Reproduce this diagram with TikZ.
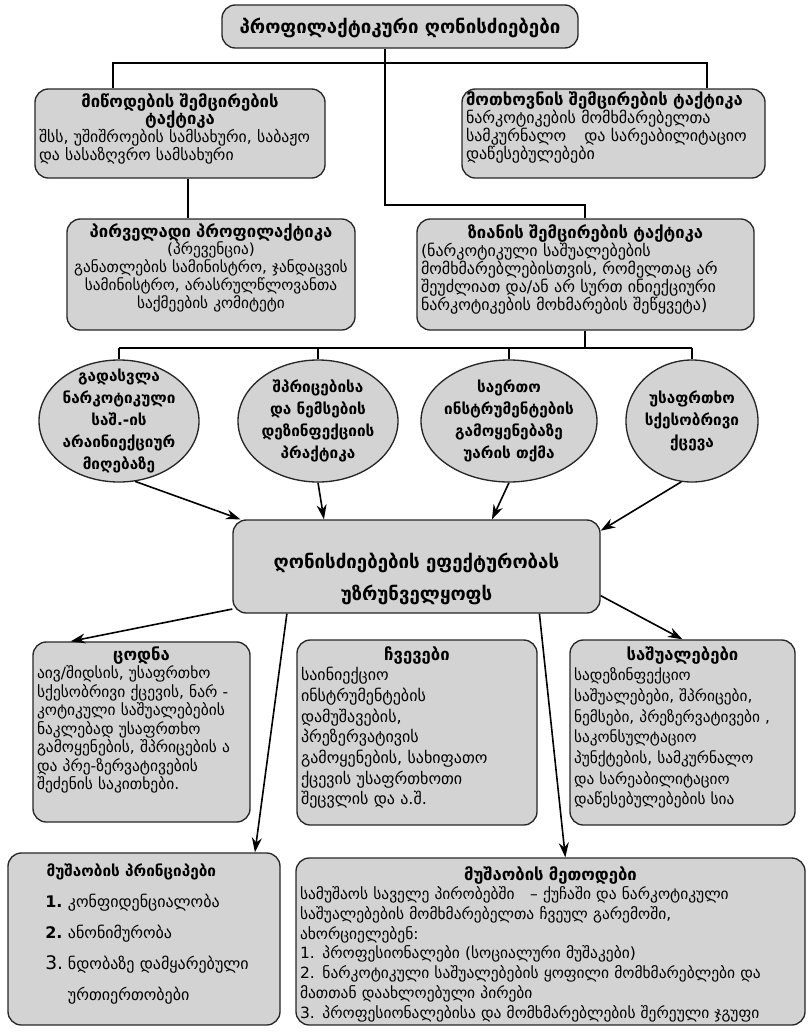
\documentclass[tikz,border=0pt]{standalone}
\usepackage{fontspec}
\setmainfont{DejaVu Sans}
\usetikzlibrary{shapes.geometric,arrows.meta,positioning}
\definecolor{boxgray}{RGB}{211,211,211}
\tikzset{box/.style={draw=black!85, fill=boxgray, rounded corners=10pt, line width=1pt, inner xsep=3pt, inner ysep=0pt, align=left, font=\fontsize{12}{13.6}\selectfont}}
\tikzset{oval/.style={ellipse, draw=black!85, fill=boxgray, line width=1pt, inner sep=-14pt, align=center, font=\bfseries\fontsize{11.5}{16.5}\selectfont}}
\tikzset{link/.style={line width=2.2pt}}
\tikzset{arr/.style={line width=1.2pt, -{Stealth[length=11pt,width=7.5pt]}}}
\newcommand{\hd}[1]{\makebox[\hsize][c]{\bfseries\fontsize{12.5}{12}\selectfont #1}\\}

\begin{document}
\begin{tikzpicture}[x=0.75pt, y=-0.75pt]
\useasboundingbox (0,0) rectangle (808,1032);

\node[box, align=center, text width=261pt, text height=21pt, text depth=11.25pt, font=\bfseries\fontsize{14}{15}\selectfont] (top) at (400,26.5) {პროფილაქტიკური ღონისძიებები};

\node[box, text width=211.5pt, text height=13.5pt, text depth=53.25pt, font=\fontsize{11.8}{13.4}\selectfont] (supply) at (180,133.5) {\hd{მიწოდების შემცირების}\hd{ტაქტიკა}შსს, უშიშროების სამსახური, საბაჟო\\და სასაზღვრო სამსახური};
\node[box, text width=221.25pt, text height=12pt, text depth=54.75pt] (demand) at (613.5,133.5) {{\bfseries\fontsize{12.5}{12}\selectfont მოთხოვნის შემცირების ტაქტიკა}\\ნარკოტიკების მომხმარებელთა\\სამკურნალო\hspace{0.8em} და სარეაბილიტაციო\\დაწესებულებები};

\node[box, align=center, inner xsep=1pt, text width=214pt, text height=13.5pt, text depth=69.75pt, font=\fontsize{11.5}{13.4}\selectfont] (primary) at (211,274.5) {{\bfseries\fontsize{12.5}{12}\selectfont პირველადი პროფილაქტიკა}\\(პრევენცია)\\განათლების სამინისტრო, ჯანდაცვის\\სამინისტრო, არასრულწლოვანთა\\საქმეების კომიტეტი};
\node[box, text width=246.75pt, text height=14.25pt, text depth=69pt] (harm) at (585.5,274.5) {\hd{ზიანის შემცირების ტაქტიკა}(ნარკოტიკული საშუალებების\\მომხმარებლებისთვის, რომელთაც არ\\შეუძლიათ და/ან არ სურთ ინიექციური\\ნარკოტიკების მოხმარების შეწყვეტა)};

\node[oval, minimum width=120pt, minimum height=91.5pt] (c1) at (119,421) {გადასვლა\\ნარკოტიკული\\საშ.-ის\\არაინიექციურ\\მიღებაზე};
\node[oval, minimum width=120pt, minimum height=91.5pt] (c2) at (318,421) {შპრიცებისა\\და ნემსების\\დეზინფექციის\\პრაქტიკა};
\node[oval, minimum width=132pt, minimum height=91.5pt] (c3) at (509,421) {საერთო\\ინსტრუმენტების\\გამოყენებაზე\\უარის თქმა};
\node[oval, minimum width=99pt, minimum height=91.5pt] (c4) at (692,421) {უსაფრთხო\\სქესობრივი\\ქცევა};

\node[box, align=center, text width=269.25pt, text height=36pt, text depth=33.75pt, font=\bfseries\fontsize{14}{24}\selectfont] (cbox) at (416.5,566.5) {ღონისძიებების ეფექტურობას\\უზრუნველყოფს};

\node[box, text width=156.75pt, text height=13.5pt, text depth=121.5pt, font=\fontsize{11.6}{13.9}\selectfont] (knowledge) at (141.5,732) {\hd{ცოდნა}აივ/შიდსის, უსაფრთხო\\სქესობრივი ქცევის, ნარ -\\კოტიკული საშუალებების\\ნაკლებად უსაფრთხო\\გამოყენების, შპრიცების ა\\და პრე-ზერვატივების\\შეძენის საკითხები.};
\node[box, text width=174pt, text height=15pt, text depth=123.75pt, font=\fontsize{12}{15.5}\selectfont] (skills) at (417,732.5) {\hd{ჩვევები}საინიექციო\\ინსტრუმენტების\\დამუშავების,\\პრეზერვატივის\\გამოყენების, სახიფათო\\ქცევის უსაფრთხოთი\\შეცვლის და ა.შ.};
\node[box, text width=162.75pt, text height=15pt, text depth=123.75pt, font=\fontsize{11.5}{15.5}\selectfont] (means) at (682.5,732.5) {\hd{საშუალებები}სადეზინფექციო\\საშუალებები, შპრიცები,\\ნემსები, პრეზერვატივები ,\\საკონსულტაციო\\პუნქტების, სამკურნალო\\და სარეაბილიტაციო\\დაწესებულებების სია};

\node[box, text width=198pt, text height=17.25pt, text depth=111.75pt, font=\fontsize{12}{23.4}\selectfont] (principles) at (144,939) {\hspace*{26pt}{\bfseries\fontsize{11.5}{12}\selectfont მუშაობის პრინციპები}\\
\hspace*{25pt}\makebox[17pt][l]{\bfseries 1.}კონფიდენციალობა\\
\hspace*{25pt}\makebox[17pt][l]{\bfseries 2.}ანონიმურობა\\
\hspace*{25pt}\makebox[17pt][l]{\fontsize{14}{14}\selectfont 3.}ნდობაზე დამყარებული\\
\hspace*{42pt}ურთიერთობები};
\node[box, text width=375.75pt, text height=16.5pt, text depth=108.75pt, font=\fontsize{11.6}{14.8}\selectfont] (methods) at (550.5,941.5) {\hd{მუშაობის მეთოდები}სამუშაოს საველე პირობებში\hspace{1em}– ქუჩაში და ნარკოტიკული\\საშუალებების მომხმარებელთა ჩვეულ გარემოში,\\ახორციელებენ:\\1. პროფესიონალები (სოციალური მუშაკები)\\2. ნარკოტიკული საშუალებების ყოფილი მომხმარებლები და\\მათთან დაახლოებული პირები\\3. პროფესიონალებისა და მომხმარებლების შერეული ჯგუფი};

\coordinate (jl) at (113,63);
\coordinate (jr) at (707,63);
\coordinate (jm) at (385,205);
\coordinate (jh) at (585,205);
\coordinate (js) at (188,198);
\coordinate (bus) at (585,348);

\draw[link] (supply.north -| jl) -- (jl) -- (jr) -- (demand.north -| jr);
\draw[link] (top.south -| jm) -- (jm) -- (jh) -- (harm.north -| jh);
\draw[link] (supply.south -| js) -- (primary.north -| js);
\draw[link] (harm.south -| bus) -- (bus);
\draw[link] (c1.north |- bus) -- (c4.north |- bus);
\foreach \c in {c1,c2,c3,c4} \draw[link] (\c.north |- bus) -- (\c.north);

\draw[arr] (c1.-75) -- (cbox.165);
\draw[arr] (c2.south) -- (cbox.153);
\draw[arr] (c3.south) -- (cbox.32);
\draw[arr] (c4.-100) -- (cbox.11);
\draw[arr] (cbox.193) -- (knowledge.128);
\draw[arr] (cbox.200) -- (principles.38);
\draw[arr] (cbox.339) -- (methods.80);
\draw[arr] (cbox.351) -- (means.north);
\end{tikzpicture}
\end{document}
